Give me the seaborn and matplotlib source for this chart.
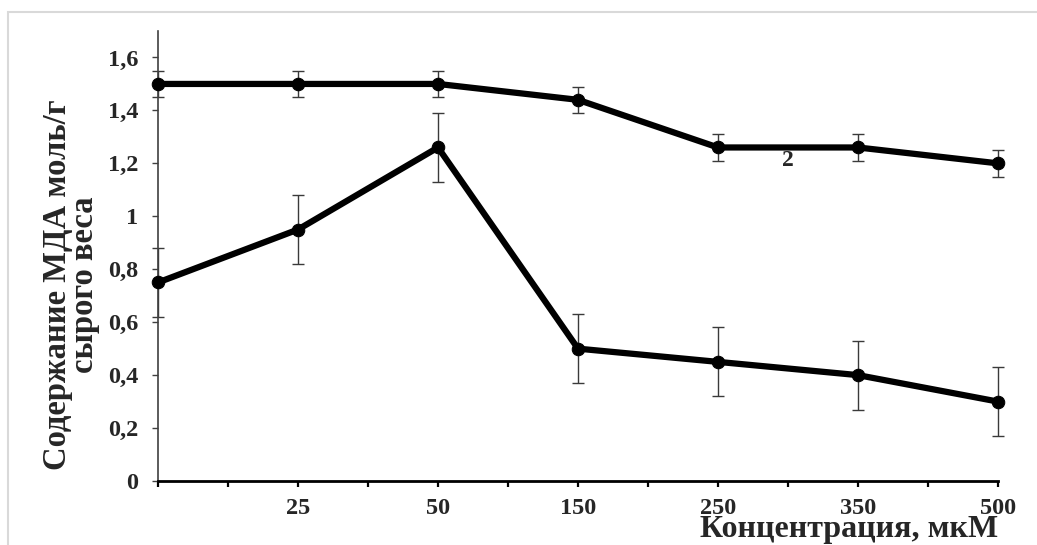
import matplotlib
matplotlib.use("Agg")
import matplotlib.pyplot as plt
import seaborn as sns
import pandas as pd
from matplotlib.ticker import MultipleLocator, FixedLocator, FuncFormatter
from matplotlib.patches import Rectangle

concentrations = ["0", "25", "50", "150", "250", "350", "500"]
tick_labels = ["", "25", "50", "150", "250", "350", "500"]
series1 = [0.75, 0.95, 1.26, 0.50, 0.45, 0.40, 0.30]
series1_err = [0.13, 0.13, 0.13, 0.13, 0.13, 0.13, 0.13]
series2 = [1.50, 1.50, 1.50, 1.44, 1.26, 1.26, 1.20]
series2_err = [0.05, 0.05, 0.05, 0.05, 0.05, 0.05, 0.05]
series_label = "2"

sns.set_style("ticks")
plt.rcParams['font.family'] = ['Liberation Serif', 'DejaVu Serif']
plt.rcParams['font.weight'] = 'bold'

W, H = 1037, 545
fig = plt.figure(figsize=(W / 100, H / 100), dpi=100)
ax = fig.add_axes([158 / W, 1 - 481 / H, 840 / W, 450 / H])

pos = list(range(len(concentrations)))
for vals, errs in [(series1, series1_err), (series2, series2_err)]:
    ax.errorbar(pos, vals, yerr=errs, fmt='none', ecolor='#3a3a3a',
                elinewidth=1.0, capsize=4, capthick=1.0, zorder=2,
                clip_on=False)
    df = pd.DataFrame({'x': pos, 'y': vals})
    sns.lineplot(data=df, x='x', y='y', ax=ax, color='black', lw=4.5,
                 marker='o', markersize=9, markeredgecolor='black',
                 markerfacecolor='black', zorder=3, clip_on=False)

ax.text(4.5, 1.21, series_label, ha='center', va='center', fontsize=17,
        fontweight='bold')

ax.set_xlim(0, 6)
ax.set_ylim(0, 1.7)
ax.xaxis.set_major_locator(FixedLocator(pos))
ax.set_xticklabels(tick_labels)
ax.xaxis.set_minor_locator(MultipleLocator(0.5))
ax.yaxis.set_major_locator(MultipleLocator(0.2))


def yfmt(v, _):
    s = f"{v:.1f}".replace('.', ',')
    if s.endswith(',0'):
        s = s[:-2]
    return s


ax.yaxis.set_major_formatter(FuncFormatter(yfmt))
ax.set_xlabel("")
ax.set_ylabel("")

for s in ['top', 'right']:
    ax.spines[s].set_visible(False)
ax.spines['left'].set_color('#404040')
ax.spines['left'].set_linewidth(1.2)
ax.spines['bottom'].set_color('black')
ax.spines['bottom'].set_linewidth(2.0)

ax.tick_params(axis='y', which='major', direction='out', length=4, width=1,
               color='#404040', pad=10, labelsize=17.5)
ax.tick_params(axis='x', which='both', direction='out', length=4, width=1.6,
               color='black', pad=8, labelsize=17.5)
for lab in ax.get_xticklabels() + ax.get_yticklabels():
    lab.set_fontweight('bold')

fig.text(998 / W, 1 - 537 / H, "Концентрация, мкМ", ha='right', va='baseline',
         fontsize=23, fontweight='bold')
fig.text(71 / W, 1 - 285 / H, "Содержание МДА моль/г\nсырого веса",
         rotation=90, ha='center', va='center', multialignment='center',
         fontsize=23.5, fontweight='bold', linespacing=0.85)

fig.patches.append(Rectangle((8 / W, -0.1), 1.2, 1.1 - 12.5 / H,
                             transform=fig.transFigure, fill=False,
                             edgecolor='#d9d9d9', lw=1.5))

fig.savefig("out.png", dpi=100)
